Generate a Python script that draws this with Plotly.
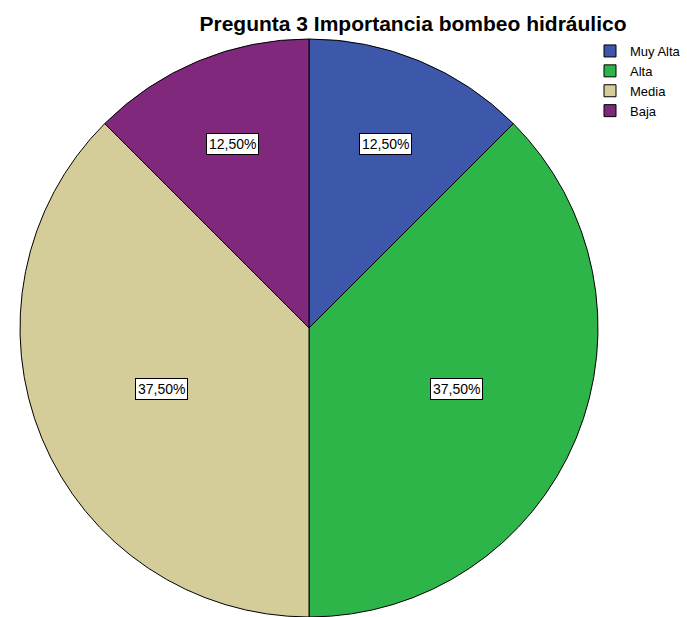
import math
import plotly.graph_objects as go

categories = ["Muy Alta", "Alta", "Media", "Baja"]
values = [12.5, 37.5, 37.5, 12.5]
colors = ["#3d58ab", "#2db54a", "#d4cd99", "#7f287c"]
title_text = "Pregunta 3 Importancia bombeo hidráulico"

W, H = 687, 617
CX, CY, R = 309, 328, 289  # pie centre (px from left/top) and radius
LABEL_R = 1.06             # label distance relative to the sector centroid
FONT = "Liberation Sans, Arial, sans-serif"

fig = go.Figure(
    go.Pie(
        labels=categories,
        values=values,
        sort=False,
        direction="clockwise",
        rotation=0,
        marker=dict(colors=colors, line=dict(color="#000000", width=1)),
        textinfo="none",
        hoverinfo="label+percent",
        domain=dict(x=[(CX - R) / W, (CX + R) / W], y=[0, 2 * (H - CY) / H]),
    )
)

# percentage labels near the centroid of each sector, derived from the values
total = sum(values)
annotations = []
start = 0.0
for v in values:
    span = 2 * math.pi * v / total
    half = span / 2
    mid = start + half
    d = LABEL_R * 2 * R * math.sin(half) / (3 * half)
    px = CX + d * math.sin(mid)
    py = CY - d * math.cos(mid)
    pct = f"{100 * v / total:.2f}%".replace(".", ",")
    annotations.append(
        dict(
            x=px / W, y=(H - py) / H, xref="paper", yref="paper",
            xanchor="center", yanchor="middle",
            text=pct, showarrow=False,
            font=dict(family=FONT, size=14, color="#000"),
            bgcolor="#ffffff", bordercolor="#000000", borderwidth=1, borderpad=2,
        )
    )
    start += span

fig.update_layout(
    width=W, height=H,
    margin=dict(l=0, r=0, t=0, b=0, autoexpand=False),
    paper_bgcolor="#ffffff",
    plot_bgcolor="#ffffff",
    title=dict(
        text=title_text, x=413 / W, xanchor="center", y=(H - 24) / H, yanchor="middle",
        font=dict(family=FONT, size=21, color="#000", weight="bold"),
    ),
    showlegend=True,
    legend=dict(
        x=590 / W, y=(H - 36) / H, xanchor="left", yanchor="top",
        font=dict(family=FONT, size=13, color="#000"),
        bgcolor="rgba(0,0,0,0)", tracegroupgap=0, itemwidth=30,
    ),
    annotations=annotations,
)

fig.write_html("out.html")
